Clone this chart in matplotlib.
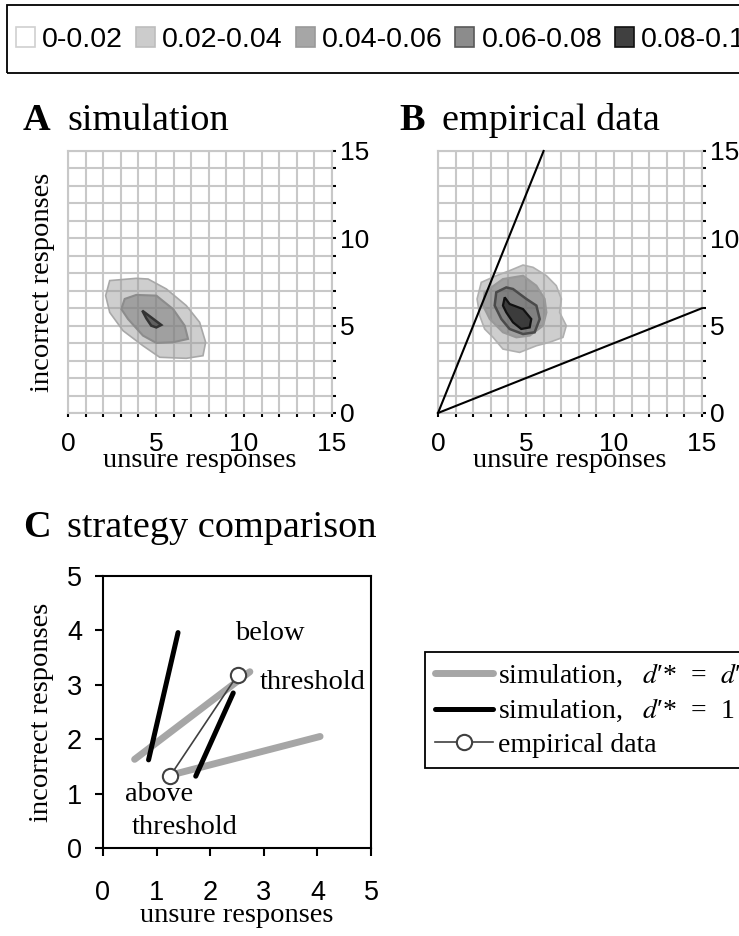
import matplotlib.pyplot as plt
from matplotlib.colors import to_rgba
from matplotlib.lines import Line2D
from matplotlib.patches import Patch, Rectangle
from matplotlib.ticker import MultipleLocator

plt.rcParams['font.family'] = ['Liberation Serif', 'DejaVu Serif']
plt.rcParams['mathtext.fontset'] = 'stix'

## density classes for the top legend
level_labels = ['0-0.02', '0.02-0.04', '0.04-0.06', '0.06-0.08', '0.08-0.1']
level_faces = ['#ffffff', '#cccccc', '#a6a6a6', '#8c8c8c', '#404040']
level_edges = ['#d0d0d0', '#bdbdbd', '#999999', '#595959', '#111111']

## A: simulated distribution, contour outlines (unsure, incorrect)
simA_02_x = [2.37, 3.88, 4.55, 5.59, 6.72, 7.48, 7.82, 7.67, 6.72, 5.21, 4.26, 3.13, 2.37, 2.14]
simA_02_y = [7.58, 7.71, 7.67, 7.10, 6.15, 5.19, 4.05, 3.28, 3.13, 3.19, 3.85, 4.71, 5.76, 6.72]
simA_04_x = [3.22, 3.88, 5.02, 5.97, 6.63, 6.82, 5.97, 5.02, 4.26, 3.41, 3.03]
simA_04_y = [6.53, 6.76, 6.72, 5.95, 5.00, 4.24, 4.05, 4.01, 4.43, 5.38, 5.95]
simA_06_x = [4.22, 5.30, 5.02, 4.73, 4.45]
simA_06_y = [5.86, 5.04, 4.90, 5.00, 5.42]

## B: empirical distribution, contour outlines
empB_02_x = [2.46, 3.31, 4.07, 4.83, 5.40, 6.16, 6.72, 7.01, 6.91, 7.29, 7.10, 6.34, 5.59, 4.64, 3.69, 3.13, 2.65, 2.37, 2.22]
empB_02_y = [7.48, 7.86, 8.15, 8.47, 8.34, 7.86, 7.29, 6.53, 5.76, 5.00, 4.33, 4.05, 3.85, 3.47, 3.66, 4.33, 4.81, 5.57, 6.53]
empB_04_x = [2.65, 3.69, 4.83, 5.59, 6.06, 6.16, 5.97, 5.21, 4.45, 3.69, 2.94, 2.56]
empB_04_y = [6.91, 7.67, 7.86, 7.29, 6.53, 5.76, 5.00, 4.43, 4.33, 4.62, 5.38, 6.15]
empB_06_x = [3.31, 3.88, 4.26, 5.02, 5.59, 5.78, 5.49, 4.83, 4.07, 3.60, 3.22]
empB_06_y = [6.91, 7.19, 7.10, 6.53, 6.15, 5.38, 4.62, 4.52, 4.81, 5.38, 6.15]
empB_08_x = [3.79, 4.07, 4.83, 5.30, 5.21, 4.73, 4.26, 3.88, 3.69]
empB_08_y = [6.62, 6.24, 5.95, 5.38, 4.90, 4.81, 5.19, 5.76, 6.15]

## B: strategy boundaries through the origin
bound_steep_x = [0, 6]
bound_steep_y = [0, 15]
bound_flat_x = [0, 15]
bound_flat_y = [0, 6]

## C: strategy comparison (unsure, incorrect)
simeq_below_x = [0.59, 2.74]
simeq_below_y = [1.63, 3.24]
simeq_above_x = [1.30, 4.05]
simeq_above_y = [1.35, 2.05]
sim1_below_x = [0.85, 1.40]
sim1_below_y = [1.62, 3.96]
sim1_above_x = [1.73, 2.43]
sim1_above_y = [1.32, 2.85]
emp_x = [1.25, 2.51]
emp_y = [1.32, 3.18]

W, H = 739, 936
fig = plt.figure(figsize=(W / 100, H / 100), dpi=100)
fig.patch.set_facecolor('white')


def fig_box(x0, y0, x1, y1):
    # pixel box (top-left origin) -> figure fraction rect
    return [x0 / W, 1 - y1 / H, (x1 - x0) / W, (y1 - y0) / H]


grid_gray = '#c8c8c8'
sans = 'Liberation Sans'

# top legend for the density shades
fig.add_artist(Rectangle((7 / W, 1 - 73 / H), 1.0, 68 / H, transform=fig.transFigure,
                         fill=False, edgecolor='black', lw=1.3))
handles = [Patch(facecolor=f, edgecolor=e, lw=1.2) for f, e in zip(level_faces, level_edges)]
fig.legend(handles, level_labels, loc='center left', bbox_to_anchor=(16 / W, 1 - 40 / H),
           ncol=5, frameon=False, borderpad=0, borderaxespad=0,
           handlelength=0.67, handleheight=0.67, handletextpad=0.25, columnspacing=0.45,
           prop={'family': sans, 'size': 20.5})


def shade(ax, x, y, face, alpha, edge, lw):
    ax.fill(x, y, facecolor=to_rgba(face, alpha), edgecolor=edge, lw=lw, zorder=2)


def grid_panel(ax):
    ax.set_xlim(0, 15)
    ax.set_ylim(0, 15)
    for axis in (ax.xaxis, ax.yaxis):
        axis.set_major_locator(MultipleLocator(5))
        axis.set_minor_locator(MultipleLocator(1))
    ax.yaxis.tick_right()
    ax.set_axisbelow(True)
    ax.grid(True, which='both', color=grid_gray, lw=1.5)
    for s in ax.spines.values():
        s.set_color(grid_gray)
        s.set_linewidth(1.5)
    ax.tick_params(which='both', direction='out', length=3, width=1.5, colors='black',
                   labelsize=19, labelfontfamily=sans)
    ax.tick_params(axis='x', which='both', pad=11)
    ax.tick_params(axis='y', which='both', pad=3)
    ax.set_xlabel('unsure responses', fontsize=20.5)
    ax.xaxis.label.set_va('baseline')
    ax.xaxis.set_label_coords(0.5, -0.205)


# Panel A
axA = fig.add_axes(fig_box(68, 151, 332, 413))
grid_panel(axA)
shade(axA, simA_02_x, simA_02_y, '#999999', 0.48, '#a8a8a8', 1.2)
shade(axA, simA_04_x, simA_04_y, '#777777', 0.52, '#8c8c8c', 1.5)
shade(axA, simA_06_x, simA_06_y, '#505050', 0.8, '#333333', 1.8)
axA.set_ylabel('incorrect responses', fontsize=20.5)
axA.yaxis.set_label_position('left')
axA.yaxis.label.set_va('center')
axA.yaxis.set_label_coords(-0.095, 0.5)

# Panel B
axB = fig.add_axes(fig_box(438, 151, 702, 413))
grid_panel(axB)
shade(axB, empB_02_x, empB_02_y, '#999999', 0.48, '#b0b0b0', 1.2)
shade(axB, empB_04_x, empB_04_y, '#777777', 0.52, '#999999', 1.5)
shade(axB, empB_06_x, empB_06_y, '#666666', 0.55, '#4a4a4a', 1.8)
shade(axB, empB_08_x, empB_08_y, '#303030', 0.85, '#111111', 1.6)
axB.plot(bound_steep_x, bound_steep_y, color='black', lw=1.5, zorder=3, clip_on=False)
axB.plot(bound_flat_x, bound_flat_y, color='black', lw=1.5, zorder=3, clip_on=False)

# Panel C
axC = fig.add_axes(fig_box(103, 576, 371, 848))
axC.set_xlim(0, 5)
axC.set_ylim(0, 5)
axC.xaxis.set_major_locator(MultipleLocator(1))
axC.yaxis.set_major_locator(MultipleLocator(1))
for s in axC.spines.values():
    s.set_linewidth(1.5)
axC.tick_params(direction='out', length=6, width=1.5, labelsize=19.5, labelfontfamily=sans)
axC.tick_params(axis='x', pad=17)
axC.tick_params(axis='y', pad=9)

gray_kw = dict(color='#a6a6a6', lw=5, solid_capstyle='round')
black_kw = dict(color='black', lw=3.6, solid_capstyle='round')
axC.plot(simeq_below_x, simeq_below_y, **gray_kw)
axC.plot(simeq_above_x, simeq_above_y, **gray_kw)
axC.plot(sim1_below_x, sim1_below_y, **black_kw)
axC.plot(sim1_above_x, sim1_above_y, **black_kw)
emp_kw = dict(color='#404040', lw=1.2, marker='o', markersize=11,
              markerfacecolor='white', markeredgecolor='#404040', markeredgewidth=1.5)
axC.plot(emp_x, emp_y, zorder=4, **emp_kw)

axC.text(3.12, 3.95, 'below', fontsize=20.5, ha='center', va='center')
axC.text(3.91, 3.04, 'threshold', fontsize=20.5, ha='center', va='center')
axC.text(1.05, 0.98, 'above', fontsize=20.5, ha='center', va='center')
axC.text(1.53, 0.37, 'threshold', fontsize=20.5, ha='center', va='center')

axC.set_ylabel('incorrect responses', fontsize=20.5)
axC.yaxis.label.set_va('center')
axC.yaxis.set_label_coords(-0.228, 0.5)
axC.set_xlabel('unsure responses', fontsize=20.5)
axC.xaxis.label.set_va('baseline')
axC.xaxis.set_label_coords(0.5, -0.272)

legC = [Line2D([], [], **gray_kw), Line2D([], [], **black_kw), Line2D([], [], **emp_kw)]
fig.legend(legC, ["simulation,   $d$\u2032*\u2002=\u2002$d$\u2032",
                  "simulation,   $d$\u2032*\u2002=\u20021", 'empirical data'],
           loc='upper left', bbox_to_anchor=(425 / W, 1 - 652 / H), borderaxespad=0,
           borderpad=0.35, labelspacing=0.3, handlelength=2.1, handletextpad=0.18,
           fancybox=False, edgecolor='black', framealpha=1, prop={'size': 20})
fig.legends[-1].get_frame().set_linewidth(1.3)

# panel titles
for x, y, letter, x2, name in [(23, 130, 'A', 67, 'simulation'),
                               (399, 130, 'B', 442, 'empirical data'),
                               (23, 537, 'C', 67, 'strategy comparison')]:
    fig.text(x / W, 1 - y / H, letter, fontsize=27.5, fontweight='bold', va='baseline')
    fig.text(x2 / W, 1 - y / H, name, fontsize=27.5, va='baseline')

fig.savefig('out.png', dpi=100)
